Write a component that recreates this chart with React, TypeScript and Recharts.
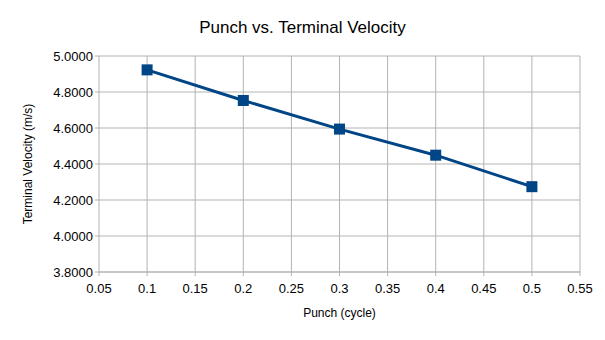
import React from 'react';
import {
  LineChart,
  Line,
  XAxis,
  YAxis,
  CartesianGrid,
  Label,
} from 'recharts';

const punch = [0.1, 0.2, 0.3, 0.4, 0.5];
const velocity = [4.923, 4.753, 4.594, 4.449, 4.274];
const xTicks = [0.05, 0.1, 0.15, 0.2, 0.25, 0.3, 0.35, 0.4, 0.45, 0.5, 0.55];
const yTicks = [3.8, 4.0, 4.2, 4.4, 4.6, 4.8, 5.0];

const data = punch.map((p, i) => ({ punch: p, velocity: velocity[i] }));

const FONT = '"Liberation Sans", Arial, sans-serif';
const GRID = '#b3b3b3';
const BLUE = '#004586';

const SquareDot = (props: any) => {
  const { cx, cy, index } = props;
  if (cx == null || cy == null) return <g key={index} />;
  return <rect key={index} x={cx - 5.5} y={cy - 5.5} width={11} height={11} fill={BLUE} />;
};

const App: React.FC = () => {
  return (
    <div style={{ position: 'absolute', left: 0, top: 0, width: 605, height: 340, background: '#fff', fontFamily: FONT }}>
      <div style={{ position: 'absolute', top: 18, left: 0, width: 605, textAlign: 'center', fontSize: 17, color: '#000' }}>
        Punch vs. Terminal Velocity
      </div>
      <LineChart width={605} height={340} data={data} margin={{ top: 56, right: 25, bottom: 0, left: 0 }}>
        <CartesianGrid stroke={GRID} strokeWidth={1} />
        <XAxis
          dataKey="punch"
          type="number"
          domain={[0.05, 0.55]}
          ticks={xTicks}
          interval={0}
          height={68}
          axisLine={{ stroke: GRID }}
          tickLine={{ stroke: GRID }}
          tickSize={4}
          tick={{ fill: '#000', fontSize: 13, fontFamily: FONT, dy: 6 }}
          allowDataOverflow
        >
          <Label value="Punch (cycle)" position="insideBottom" offset={23} style={{ fontSize: 12, fill: '#000', fontFamily: FONT }} />
        </XAxis>
        <YAxis
          type="number"
          domain={[3.8, 5.0]}
          ticks={yTicks}
          interval={0}
          width={99}
          axisLine={false}
          tickLine={{ stroke: GRID }}
          tickSize={4}
          tickFormatter={(v: number) => v.toFixed(4)}
          tick={{ fill: '#000', fontSize: 13, fontFamily: FONT }}
          allowDataOverflow
        >
          <Label
            value="Terminal Velocity (m/s)"
            angle={-90}
            position="insideLeft"
            offset={28}
            style={{ fontSize: 12, fill: '#000', fontFamily: FONT, textAnchor: 'middle' }}
          />
        </YAxis>
        <Line
          type="linear"
          dataKey="velocity"
          stroke={BLUE}
          strokeWidth={3}
          dot={SquareDot}
          activeDot={false}
          isAnimationActive={false}
        />
      </LineChart>
    </div>
  );
};

export default App;
